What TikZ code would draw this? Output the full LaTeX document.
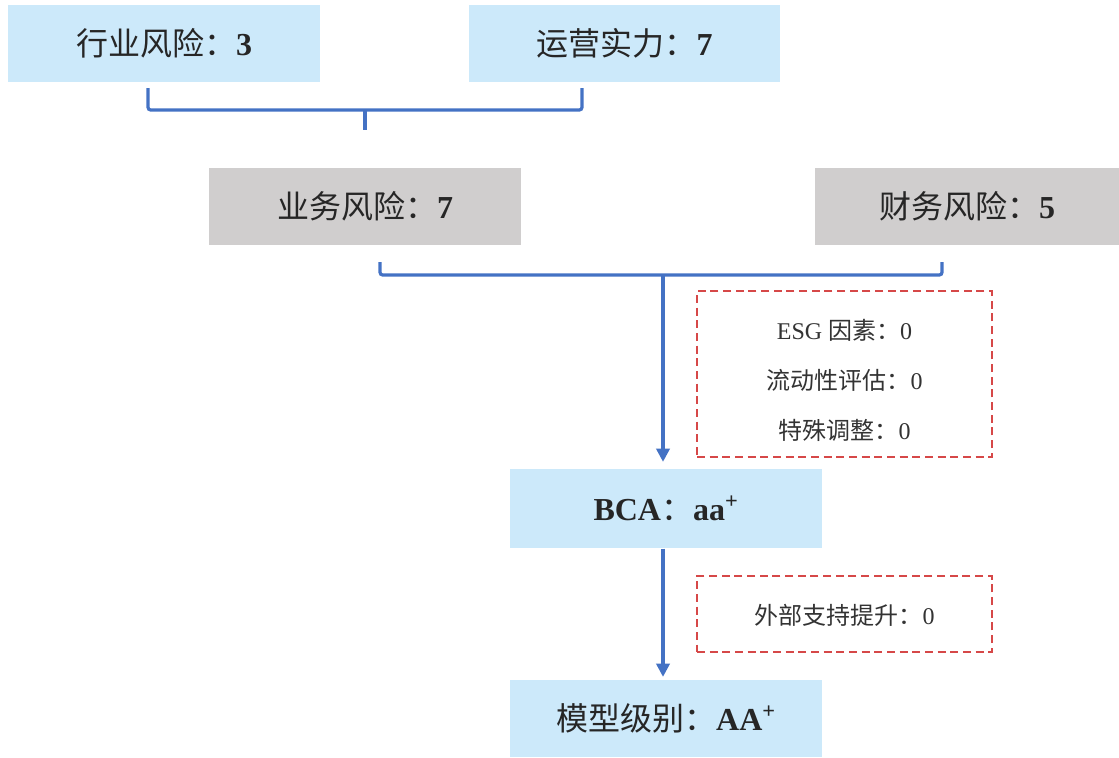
\documentclass[tikz,border=0pt]{standalone}
\usepackage{fontspec}
\setmainfont{Liberation Serif}
\newfontfamily\cjk{Noto Sans CJK SC}
\usetikzlibrary{arrows.meta}
\definecolor{boxblue}{RGB}{204,233,250}
\definecolor{boxgray}{RGB}{208,206,206}
\definecolor{linkblue}{RGB}{68,114,196}
\definecolor{dashred}{RGB}{214,72,72}
\tikzset{every picture/.style={line width=0.75pt}}

\begin{document}
\begin{tikzpicture}[x=0.75pt,y=0.75pt,yscale=-1,xscale=1,
  bluebox/.style={fill=boxblue, inner sep=0, minimum width=234pt, minimum height=57.75pt, font=\fontsize{24}{28}\selectfont, text=black!85},
  graybox/.style={bluebox, fill=boxgray},
  notebox/.style={draw=dashred, line width=1.2pt, dash pattern=on 6pt off 3.5pt, inner sep=0, minimum width=221.25pt, align=center, font=\fontsize{18}{37.5}\selectfont, text=black!80},
  link/.style={draw=linkblue, line width=2.4pt, rounded corners=2pt},
  arr/.style={link, -{Triangle[length=10pt,width=10pt]}}]
	\useasboundingbox (0,0) rectangle (1119,757);

	% Boxes
	\node[bluebox] (ind) at (164,43.5) {{\cjk 行业风险：}\textbf{3}};
	\node[bluebox, minimum width=233.25pt] (opr) at (624.5,43.5) {{\cjk 运营实力：}\textbf{7}};
	\node[graybox] (bus) at (365,206) {{\cjk 业务风险：}\textbf{7}};
	\node[graybox, minimum width=228pt] (fin) at (967,206) {{\cjk 财务风险：}\textbf{5}};
	\node[bluebox, minimum height=59.25pt] (bca) at (666,508.5) {\textbf{BCA}{\cjk ：}\textbf{aa}\textsuperscript{\textbf{+}}};
	\node[bluebox] (mdl) at (666,718.5) {{\cjk 模型级别：}\textbf{AA}\textsuperscript{\textbf{+}}};

	% Dashed notes
	\node[notebox, minimum height=124.5pt] (adj) at (844.5,374) {\rule{0pt}{25pt}ESG {\cjk 因素：}0\\{\cjk 流动性评估：}0\\{\cjk 特殊调整：}0};
	\node[notebox, minimum height=57pt] (ext) at (844.5,614) {\rule{0pt}{17pt}{\cjk 外部支持提升：}0};

	% Brackets
	\coordinate (b1l) at (148,88);
	\coordinate (b1r) at (582,88);
	\coordinate (b1m) at (365,110);
	\coordinate (b1t) at (365,130);
	\draw[link] (b1l) |- (b1m) -| (b1r);
	\draw[link] (b1m) -- (b1t);

	\coordinate (b2l) at (380,262);
	\coordinate (b2r) at (942,262);
	\coordinate (b2m) at (663,275);
	\draw[link] (b2l) |- (b2m) -| (b2r);

	% Arrows
	\draw[arr, shorten >=5pt] (b2m) -- (b2m |- bca.north);
	\draw[arr, shorten >=2pt] (bca.south -| b2m) -- (mdl.north -| b2m);

\end{tikzpicture}
\end{document}
